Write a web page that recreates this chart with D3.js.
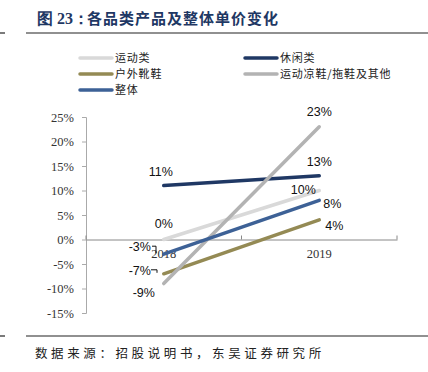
<!DOCTYPE html>
<html>
<head>
<meta charset="utf-8">
<script src="https://cdn.jsdelivr.net/npm/d3@7"></script>
<style>
  body { margin: 0; background: #fff; }
</style>
</head>
<body>
<svg id="chart" width="428" height="372"></svg>
<script>
// chart data
var years = ["2018", "2019"];
var seriesNames = ["运动类", "休闲类", "户外靴鞋", "运动凉鞋/拖鞋及其他", "整体"];
var sportValues = [0, 10];
var casualValues = [11, 13];
var outdoorValues = [-7, 4];
var sandalValues = [-9, 23];
var totalValues = [-3, 8];
var yTicks = [-15, -10, -5, 0, 5, 10, 15, 20, 25];

var colors = ["#d9d9d9", "#1f3864", "#948a54", "#b3b3b3", "#3d6196"];

var SANS = "'Liberation Sans', Arial, sans-serif";
var SERIF = "'Liberation Serif', 'Times New Roman', serif";
var CJK = "'Noto Sans CJK SC', sans-serif";

var series = [
  { name: seriesNames[0], values: sportValues, color: colors[0] },
  { name: seriesNames[1], values: casualValues, color: colors[1] },
  { name: seriesNames[2], values: outdoorValues, color: colors[2] },
  { name: seriesNames[3], values: sandalValues, color: colors[3] },
  { name: seriesNames[4], values: totalValues, color: colors[4] }
];

var svg = d3.select("#chart");

// title and rules
var title = svg.append("text")
  .attr("x", 37).attr("y", 24)
  .style("font-family", CJK)
  .style("font-size", "15px")
  .style("font-weight", "bold")
  .style("fill", "#1f3864");
title.append("tspan").style("font-family", SERIF).style("font-size", "16px").text("图 23：");
title.append("tspan").attr("x", 87).style("letter-spacing", "1px").text("各品类产品及整体单价变化");

[33, 336].forEach(function (y) {
  svg.append("line").attr("x1", 0).attr("x2", 5).attr("y1", y).attr("y2", y)
    .style("stroke", "#222").style("stroke-width", 1.2);
  svg.append("line").attr("x1", 26).attr("x2", 428).attr("y1", y).attr("y2", y)
    .style("stroke", "#222").style("stroke-width", 1.2);
});

svg.append("text")
  .attr("x", 35).attr("y", 358)
  .style("font-family", CJK)
  .style("font-size", "12.5px")
  .style("letter-spacing", "3.6px")
  .style("fill", "#222")
  .text("数据来源：招股说明书，东吴证券研究所");

// legend
var legendPos = [[80, 58], [245, 58], [80, 74], [245, 74], [80, 90]];
var legend = svg.selectAll(".legend")
  .data(series)
  .enter()
  .append("g")
  .attr("class", "legend")
  .attr("transform", (d, i) => "translate(" + legendPos[i][0] + "," + legendPos[i][1] + ")");
legend.append("line")
  .attr("x1", 0).attr("x2", 32)
  .style("stroke", (d) => d.color)
  .style("stroke-width", 3.5)
  .style("stroke-linecap", "round");
legend.append("text")
  .attr("x", 35).attr("y", 4)
  .style("font-family", CJK)
  .style("font-size", "11px")
  .style("letter-spacing", "0.8px")
  .style("fill", "#222")
  .text((d) => d.name);

// scales
var xScale = d3.scaleBand().domain(years).range([86, 397]);
var yScale = d3.scaleLinear().domain([-15, 25]).range([313, 117]);
var xMid = (d) => xScale(d) + xScale.bandwidth() / 2;

// y axis
var yAxis = d3.axisLeft(yScale)
  .tickValues(yTicks)
  .tickSize(4)
  .tickFormat((d) => d + "%");
var gy = svg.append("g").attr("transform", "translate(86,0)").call(yAxis);
gy.attr("font-family", null);
gy.select(".domain").style("stroke", "#aaa");
gy.selectAll(".tick line").style("stroke", "#aaa");
gy.selectAll(".tick text")
  .attr("x", -12)
  .style("font-family", SERIF)
  .style("font-size", "12.5px")
  .style("fill", "#333");

// x axis at zero
var xAxis = d3.axisBottom(xScale).tickSize(0).tickSizeOuter(0);
var gx = svg.append("g").attr("transform", "translate(0," + yScale(0) + ")").call(xAxis);
gx.select(".domain").style("stroke", "#888");
gx.selectAll(".tick text")
  .attr("y", 10)
  .style("font-family", SERIF)
  .style("font-size", "12.5px")
  .style("fill", "#333");
// category boundary ticks (pointing up)
svg.selectAll(".xsep")
  .data([86, xScale(years[1]), 397])
  .enter()
  .append("line")
  .attr("x1", (d) => d).attr("x2", (d) => d)
  .attr("y1", yScale(0) - 4).attr("y2", yScale(0))
  .style("stroke", "#888");

// lines
var line = d3.line()
  .x((d, i) => xMid(years[i]))
  .y((d) => yScale(d));
svg.selectAll(".series")
  .data(series)
  .enter()
  .append("path")
  .attr("class", "series")
  .attr("d", (d) => line(d.values))
  .style("fill", "none")
  .style("stroke", (d) => d.color)
  .style("stroke-width", 3.5)
  .style("stroke-linecap", "round");

// data labels: [series index, year index, dx, dy, anchor]
var labelSpots = [
  [0, 0, 0, -16, "middle"],
  [0, 1, -16, -1, "middle"],
  [1, 0, -3, -14, "middle"],
  [1, 1, 0, -14, "middle"],
  [2, 0, -24, -3, "middle"],
  [2, 1, 6, 6, "start"],
  [3, 0, -20, 9, "middle"],
  [3, 1, 0, -15, "middle"],
  [4, 0, -24, -8, "middle"],
  [4, 1, 4, 3, "start"]
];
svg.selectAll(".dlabel")
  .data(labelSpots)
  .enter()
  .append("text")
  .attr("class", "dlabel")
  .attr("x", (d) => xMid(years[d[1]]) + d[2])
  .attr("y", (d) => yScale(series[d[0]].values[d[1]]) + d[3] + 4.5)
  .attr("text-anchor", (d) => d[4])
  .style("font-family", SANS)
  .style("font-size", "12.5px")
  .style("fill", "#111")
  .text((d) => series[d[0]].values[d[1]] + "%");

// leader lines for -3% and -7%
var lead3 = yScale(totalValues[0]);
svg.append("path")
  .attr("d", "M152," + (lead3 - 8) + "H156V" + (lead3 - 1))
  .style("fill", "none").style("stroke", "#111").style("stroke-width", 1);
var lead7 = yScale(outdoorValues[0]);
svg.append("path")
  .attr("d", "M151," + (lead7 - 4) + "H157V" + (lead7 - 1))
  .style("fill", "none").style("stroke", "#111").style("stroke-width", 1);
</script>
</body>
</html>
